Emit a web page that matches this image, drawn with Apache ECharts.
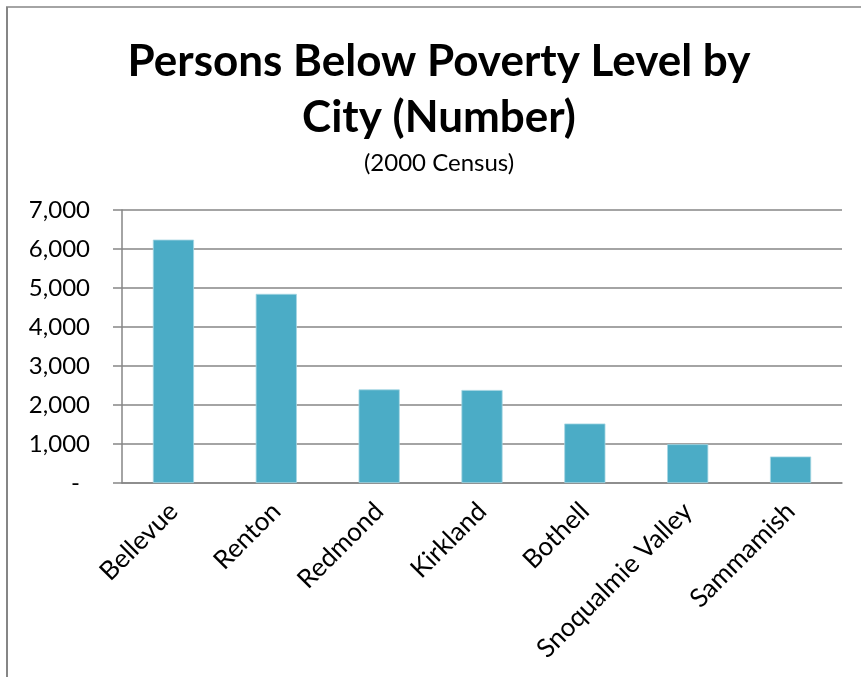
<!DOCTYPE html>
<html>
<head>
<meta charset="utf-8">
<style>
  html, body { margin: 0; padding: 0; background: #ffffff; }
  #chart { width: 861px; height: 677px; }
</style>
<script src="https://cdn.jsdelivr.net/npm/echarts@6/dist/echarts.min.js"></script>
</head>
<body>
<div id="chart"></div>
<script>
// Persons below poverty level, 2000 Census
const cities = ['Bellevue', 'Renton', 'Redmond', 'Kirkland', 'Bothell', 'Snoqualmie Valley', 'Sammamish'];
const persons = [6240, 4850, 2400, 2385, 1525, 995, 680];
const yTicks = [0, 1000, 2000, 3000, 4000, 5000, 6000, 7000];

const titleText = 'Persons Below Poverty Level by\nCity (Number)';
const subtitleText = '(2000 Census)';

const FONT = 'Lato, "Open Sans", sans-serif';
const AXIS_GREY = '#868686';

const chart = echarts.init(document.getElementById('chart'), null, { renderer: 'canvas' });

chart.setOption({
  animation: false,
  backgroundColor: '#ffffff',
  title: {
    text: titleText,
    subtext: subtitleText,
    left: 434,
    textAlign: 'center',
    top: 29,
    itemGap: 5,
    textStyle: {
      fontFamily: FONT,
      fontSize: 44,
      fontWeight: 'bold',
      color: '#000000',
      lineHeight: 56
    },
    subtextStyle: {
      fontFamily: FONT,
      fontSize: 24,
      color: '#000000'
    }
  },
  grid: {
    left: 122,
    right: 19,
    top: 210,
    bottom: 194,
    containLabel: false
  },
  xAxis: {
    type: 'category',
    data: cities,
    axisLine: { show: true, lineStyle: { color: AXIS_GREY, width: 1.5 } },
    axisTick: { show: false },
    axisLabel: {
      rotate: 45,
      interval: 0,
      margin: 24,
      fontFamily: FONT,
      fontSize: 26,
      color: '#000000'
    }
  },
  yAxis: {
    type: 'value',
    min: yTicks[0],
    max: yTicks[yTicks.length - 1],
    interval: 1000,
    axisLine: { show: true, lineStyle: { color: AXIS_GREY, width: 1.5 } },
    axisTick: { show: true, inside: false, length: 9, lineStyle: { color: AXIS_GREY, width: 1.5 } },
    splitLine: { show: true, lineStyle: { color: AXIS_GREY, width: 1.5 } },
    axisLabel: {
      margin: 32,
      fontFamily: FONT,
      fontSize: 24,
      color: '#000000',
      formatter: function (v) {
        if (v === 0) return '{dash|-}';
        return v.toLocaleString('en-US');
      },
      rich: {
        dash: { fontFamily: FONT, fontSize: 24, color: '#000000', padding: [0, 10, 0, 0] }
      }
    }
  },
  series: [{
    type: 'bar',
    data: persons,
    barWidth: '40%',
    itemStyle: {
      color: '#4BACC6',
      borderColor: '#A5D5E2',
      borderWidth: 0.8
    }
  }],
  graphic: [
    {
      type: 'line',
      shape: { x1: 7, y1: 677, x2: 7, y2: 7 },
      style: { stroke: AXIS_GREY, lineWidth: 2 }
    },
    {
      type: 'line',
      shape: { x1: 6, y1: 7, x2: 861, y2: 7 },
      style: { stroke: AXIS_GREY, lineWidth: 1.3 }
    }
  ]
});
</script>
</body>
</html>
